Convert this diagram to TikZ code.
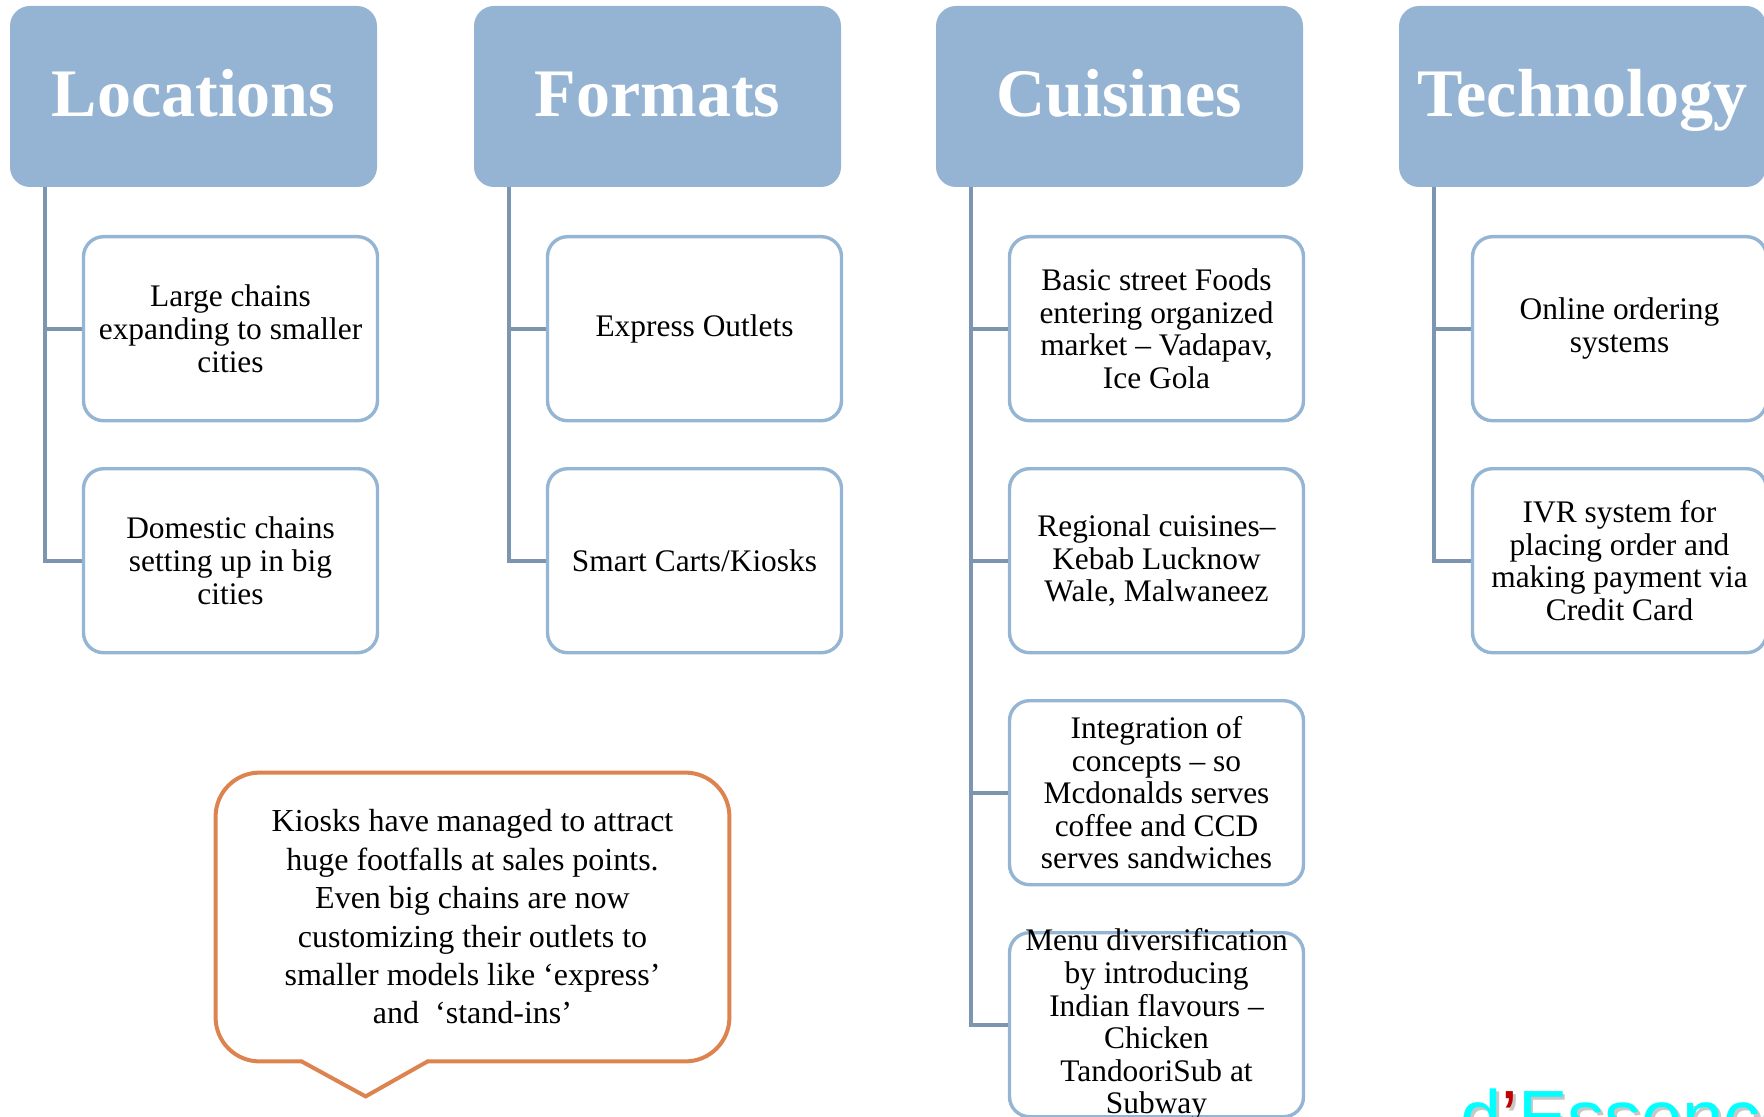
\documentclass[tikz,border=0pt]{standalone}
\usepackage{fontspec}
\setmainfont{Liberation Serif}
\newfontfamily\brandfont{Liberation Sans}
\usetikzlibrary{positioning,calc}
\definecolor{hdfill}{RGB}{149,180,211}
\definecolor{itedge}{RGB}{149,181,212}
\definecolor{lnedge}{RGB}{124,150,178}
\definecolor{callorange}{RGB}{221,131,80}
\definecolor{brandcyan}{RGB}{0,255,255}
\definecolor{brandred}{RGB}{192,0,0}
\tikzset{
  head/.style={
    fill=hdfill, rounded corners=10pt, inner sep=0pt,
    minimum width=183.5pt, minimum height=90.5pt,
    text=white, font=\bfseries\fontsize{34}{38}\selectfont,
    text height=24pt, text depth=4pt
  },
  item/.style={
    draw=itedge, line width=1.7pt, fill=white, rounded corners=10pt,
    minimum width=147pt, minimum height=92pt, inner sep=4pt,
    align=center, font=\fontsize{15.7}{16.3}\selectfont
  },
  conn/.style={draw=lnedge, line width=2pt},
  note/.style={
    minimum width=256.5pt, minimum height=144pt, inner sep=0pt,
    align=center, font=\fontsize{16}{19.2}\selectfont
  },
  callout/.style={draw=callorange, line width=2pt, line cap=round},
  brand/.style={anchor=base west, inner sep=0pt, font=\brandfont\fontsize{37}{40}\selectfont}
}

\begin{document}
\begin{tikzpicture}[x=0.5pt, y=-0.5pt, node distance=22.3pt]
  \path[use as bounding box, clip] (0,0) rectangle (1764,1117);

  % column heads
  \node[head] (loc) at (193.5,96.5) {Locations};
  \node[head] (for) at (657.5,96.5) {Formats};
  \node[head] (cui) at (1119.5,96.5) {Cuisines};
  \node[head] (tec) at (1582.5,96.5) {Technology};

  % Locations
  \node[item, below=23.8pt of loc, xshift=18.5pt] (loc1) {Large chains\\expanding to smaller\\cities};
  \node[item, below=of loc1] (loc2) {Domestic chains\\setting up in big\\cities};
  \draw[conn] ([xshift=17.5pt]loc.south west) |- (loc1.west);
  \draw[conn] ([xshift=17.5pt]loc.south west) |- (loc2.west);

  % Formats
  \node[item, below=23.8pt of for, xshift=18.5pt] (for1) {Express Outlets};
  \node[item, below=of for1] (for2) {Smart Carts/Kiosks};
  \draw[conn] ([xshift=17.5pt]for.south west) |- (for1.west);
  \draw[conn] ([xshift=17.5pt]for.south west) |- (for2.west);

  % Cuisines
  \node[item, below=23.8pt of cui, xshift=18.5pt] (cui1) {Basic street Foods\\entering organized\\market -- Vadapav,\\Ice Gola};
  \node[item, below=of cui1] (cui2) {Regional cuisines--\\Kebab Lucknow\\Wale, Malwaneez};
  \node[item, below=of cui2] (cui3) {Integration of\\concepts -- so\\Mcdonalds serves\\coffee and CCD\\serves sandwiches};
  \node[item, below=of cui3, inner ysep=-4pt] (cui4) {Menu diversification\\by introducing\\Indian flavours --\\Chicken\\TandooriSub at\\Subway};
  \draw[conn] ([xshift=17.5pt]cui.south west) |- (cui1.west);
  \draw[conn] ([xshift=17.5pt]cui.south west) |- (cui2.west);
  \draw[conn] ([xshift=17.5pt]cui.south west) |- (cui3.west);
  \draw[conn] ([xshift=17.5pt]cui.south west) |- (cui4.west);

  % Technology
  \node[item, below=23.8pt of tec, xshift=18.5pt] (tec1) {Online ordering\\systems};
  \node[item, below=of tec1] (tec2) {IVR system for\\placing order and\\making payment via\\Credit Card};
  \draw[conn] ([xshift=17.5pt]tec.south west) |- (tec1.west);
  \draw[conn] ([xshift=17.5pt]tec.south west) |- (tec2.west);

  % speech bubble
  \node[note] (note) at (472.5,917) {Kiosks have managed to attract\\huge footfalls at sales points.\\Even big chains are now\\customizing their outlets to\\smaller models like ‘express’\\and\ \ ‘stand-ins’};
  \draw[callout, rounded corners=22pt] ($(note.south west)+(86,0)$) -- (note.south west)
    -- (note.north west) -- (note.north east) -- (note.south east) -- ($(note.south west)+(212,0)$);
  \draw[callout] ($(note.south west)+(86,0)$) -- ($(note.south west)+(150,35)$) -- ($(note.south west)+(212,0)$);

  % logo, cut by the page edge
  \node[brand, text=black!22] (brandshadow) at (1463,1145) {d’Essence};
  \node[brand, text=brandcyan] (brandname) at (1460,1142) {d{\color{brandred}’}Essence};
\end{tikzpicture}
\end{document}
